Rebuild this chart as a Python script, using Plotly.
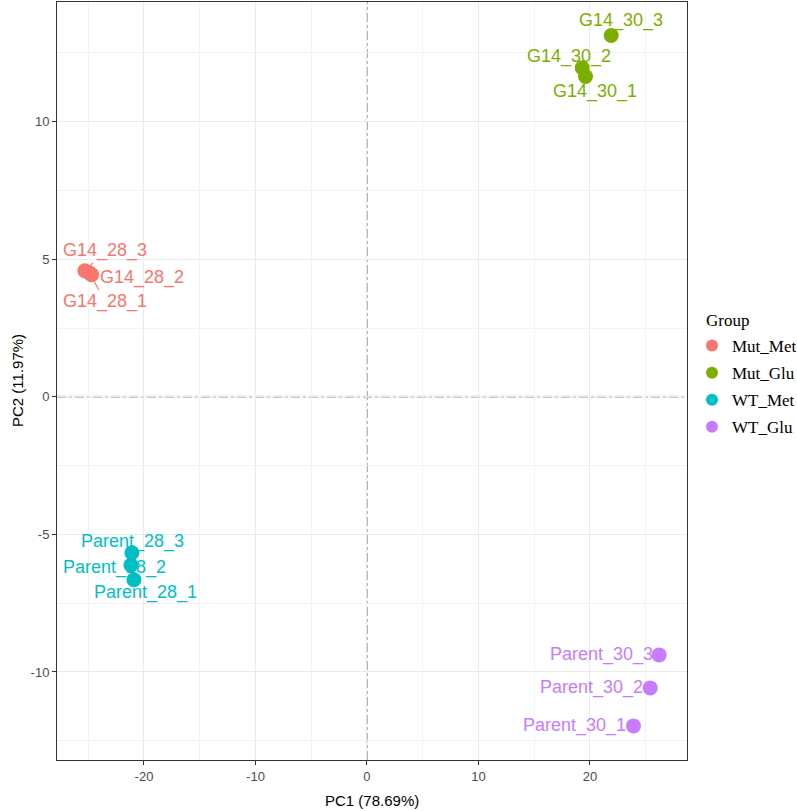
import plotly.graph_objects as go

# ---- data ----
sample_names = ["G14_28_1", "G14_28_2", "G14_28_3",
                "G14_30_1", "G14_30_2", "G14_30_3",
                "Parent_28_1", "Parent_28_2", "Parent_28_3",
                "Parent_30_1", "Parent_30_2", "Parent_30_3"]
sample_groups = ["Mut_Met"] * 3 + ["Mut_Glu"] * 3 + ["WT_Met"] * 3 + ["WT_Glu"] * 3
pc1_values = [-24.9, -24.7, -25.3,
              19.6, 19.3, 21.9,
              -20.9, -21.17, -21.08,
              23.9, 25.4, 26.2]
pc2_values = [4.51, 4.44, 4.58,
              11.64, 11.96, 13.13,
              -6.65, -6.11, -5.67,
              -11.96, -10.58, -9.38]
group_order = ["Mut_Met", "Mut_Glu", "WT_Met", "WT_Glu"]
x_tick_values = [-20, -10, 0, 10, 20]
x_tick_labels = ["-20", "-10", "0", "10", "20"]
y_tick_values = [-10, -5, 0, 5, 10]
y_tick_labels = ["-10", "-5", "0", "5", "10"]
x_title = "PC1 (78.69%)"
y_title = "PC2 (11.97%)"
legend_title = "Group"

# ---- style ----
group_colors = {"Mut_Met": "#F8766D", "Mut_Glu": "#7CAE00",
                "WT_Met": "#00BFC4", "WT_Glu": "#C77CFF"}
# label placement (pixel offsets of label centre from the point); leader = draw segment
label_offsets = {
    "G14_28_1": (16, 29, True), "G14_28_2": (50, 3, True), "G14_28_3": (20, -20, True),
    "G14_30_1": (9, 15, False), "G14_30_2": (-13, -11, False), "G14_30_3": (10, -15, False),
    "Parent_28_1": (12, 13, False), "Parent_28_2": (-16, 3, False), "Parent_28_3": (1, -11, False),
    "Parent_30_1": (-59, 0, False), "Parent_30_2": (-59, 0, False), "Parent_30_3": (-58, 0, False),
}
SANS = "Liberation Sans, Arial, sans-serif"
SERIF = "Liberation Serif, Times New Roman, serif"
W, H = 797, 811
ML, MR, MT, MB = 57, 110, 2, 51
PW, PH = W - ML - MR, H - MT - MB

fig = go.Figure()
for g in group_order:
    idx = [i for i, gg in enumerate(sample_groups) if gg == g]
    fig.add_trace(go.Scatter(
        x=[pc1_values[i] for i in idx],
        y=[pc2_values[i] for i in idx],
        mode="markers", name=g, legendgroup=g,
        marker=dict(color=group_colors[g], size=15, line=dict(width=0)),
        hoverinfo="text", text=[sample_names[i] for i in idx],
    ))

annotations = []
for i, nm in enumerate(sample_names):
    dx, dy, leader = label_offsets[nm]
    col = group_colors[sample_groups[i]]
    base = dict(x=pc1_values[i], y=pc2_values[i], xref="x", yref="y", text=nm,
                font=dict(family=SANS, size=18, color=col))
    if leader:
        base.update(showarrow=True, ax=dx, ay=dy, arrowhead=0, arrowwidth=1.2,
                    arrowcolor=col, standoff=0, startstandoff=0)
    else:
        base.update(showarrow=False, xshift=dx, yshift=-dy)
    annotations.append(base)

# axis titles
annotations.append(dict(text=x_title, xref="paper", yref="paper", x=0.5, y=-(800 - (H - MB)) / PH,
                        xanchor="center", yanchor="middle", showarrow=False,
                        font=dict(family=SANS, size=15, color="#000")))
annotations.append(dict(text=y_title, xref="paper", yref="paper", x=-(ML - 17) / PW, y=0.5,
                        xanchor="center", yanchor="middle", showarrow=False, textangle=-90,
                        font=dict(family=SANS, size=15, color="#000")))
# legend title
annotations.append(dict(text=legend_title, xref="paper", yref="paper",
                        x=(704 - ML) / PW, y=(H - MB - 320) / PH,
                        xanchor="left", yanchor="middle", showarrow=False,
                        font=dict(family=SERIF, size=17, color="#000")))

axis_common = dict(
    showline=True, linecolor="#333333", linewidth=1, mirror=True,
    ticks="outside", ticklen=4, tickcolor="#333333", tickwidth=1,
    tickfont=dict(family=SANS, size=13, color="#4d4d4d"),
    showgrid=True, gridcolor="#ebebeb", gridwidth=1.1, zeroline=False,
    automargin=False,
)

fig.update_layout(
    width=W, height=H,
    margin=dict(l=ML, r=MR, t=MT, b=MB),
    plot_bgcolor="white", paper_bgcolor="white",
    xaxis=dict(range=[-27.8, 28.7], tickvals=x_tick_values, ticktext=x_tick_labels,
               minor=dict(dtick=5, tick0=0, showgrid=True, gridcolor="#f3f3f3", gridwidth=0.6, ticks=""),
               **axis_common),
    yaxis=dict(range=[-13.2, 14.35], tickvals=y_tick_values, ticktext=y_tick_labels,
               minor=dict(dtick=2.5, tick0=0, showgrid=True, gridcolor="#f3f3f3", gridwidth=0.6, ticks=""),
               **axis_common),
    legend=dict(font=dict(family=SERIF, size=17, color="#000"),
                xref="container", yref="container",
                x=692 / W, xanchor="left", y=1 - 328 / H, yanchor="top", itemsizing="constant",
                tracegroupgap=2, bgcolor="rgba(0,0,0,0)"),
    annotations=annotations,
    shapes=[
        dict(type="line", xref="x", yref="paper", x0=0, x1=0, y0=0, y1=1,
             line=dict(color="#b3b3b3", width=2, dash="dashdot"), layer="below"),
        dict(type="line", xref="paper", yref="y", x0=0, x1=1, y0=0, y1=0,
             line=dict(color="#b3b3b3", width=2, dash="dashdot"), layer="below"),
    ],
)

fig.write_html("out.html", config={"displayModeBar": False},
               post_script="document.body.style.margin='0';document.body.style.overflow='hidden';")
